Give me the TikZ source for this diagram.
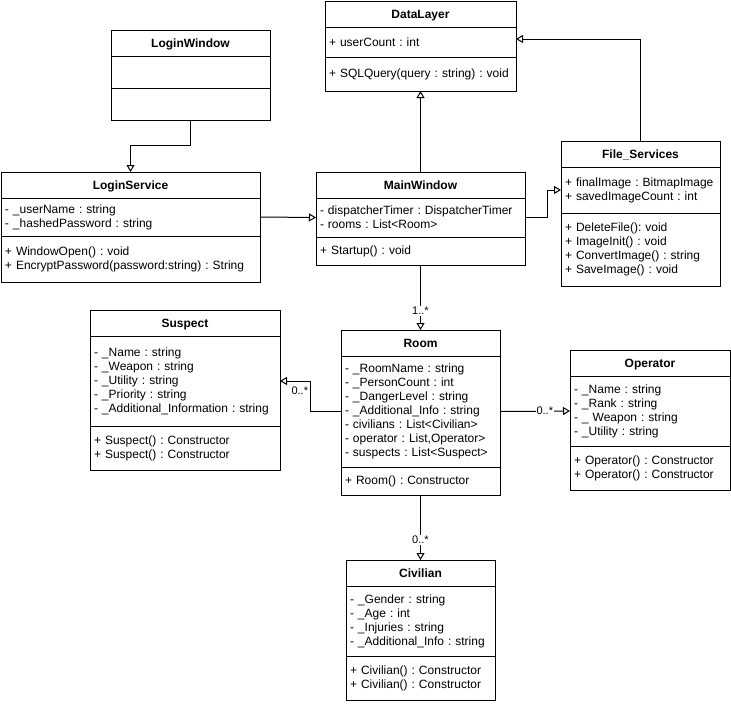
\documentclass[tikz,border=0pt]{standalone}
\usepackage{fontspec}
\setmainfont{Liberation Sans}
\usetikzlibrary{arrows.meta, positioning}
\frenchspacing

\begin{document}
\begin{tikzpicture}[
    x=1pt, y=-1pt,
    node distance=0pt,
    line width=1pt,
    classname/.style={rectangle, draw, outer sep=0pt, inner xsep=4pt, inner ysep=2pt, text width=#1, text height=9pt, text depth=0pt, align=center, minimum height=26pt, anchor=north west, font=\fontsize{12}{14}\selectfont\bfseries},
    compart/.style={rectangle, draw, outer sep=0pt, inner xsep=4pt, inner ysep=2pt, text width=#1, align=left, font=\fontsize{12}{14}\selectfont},
    inherit/.style={-{Triangle[open, length=7pt, width=8pt]}},
    mult/.style={fill=white, inner sep=1pt, font=\fontsize{11}{13}\selectfont}
]

\fill[white] (0,0) rectangle (731,704);
\useasboundingbox (0,0) rectangle (731,704);

\node[classname=183pt] (datalayer) at (325,1) {DataLayer};
\node[compart=183pt, minimum height=30pt, below=of datalayer] (datalayer-a) {+ userCount : int};
\node[compart=183pt, minimum height=34pt, below=of datalayer-a] (datalayer-m) {+ SQLQuery(query : string) : void};

\node[classname=151pt] (loginwindow) at (111,30) {LoginWindow};
\node[compart=151pt, minimum height=32pt, below=of loginwindow] (loginwindow-a) {};
\node[compart=151pt, minimum height=32pt, below=of loginwindow-a] (loginwindow-m) {};

\node[classname=251pt] (loginservice) at (1,172) {LoginService};
\node[compart=251pt, minimum height=38pt, below=of loginservice] (loginservice-a) {- \_userName : string\\- \_hashedPassword : string};
\node[compart=251pt, minimum height=46pt, below=of loginservice-a] (loginservice-m) {+ WindowOpen() : void\\+ EncryptPassword(password:string) : String};

\node[classname=201pt] (mainwindow) at (316,172) {MainWindow};
\node[compart=201pt, minimum height=39pt, below=of mainwindow] (mainwindow-a) {- dispatcherTimer : DispatcherTimer\\- rooms : List<Room>};
\node[compart=201pt, minimum height=28pt, below=of mainwindow-a] (mainwindow-m) {+ Startup() : void};

\node[classname=151pt] (fileservices) at (561,141) {File\_Services};
\node[compart=151pt, minimum height=46pt, below=of fileservices] (fileservices-a) {+ finalImage : BitmapImage\\+ savedImageCount : int};
\node[compart=151pt, minimum height=73pt, below=of fileservices-a] (fileservices-m) {+ DeleteFile(): void\\+ ImageInit() : void\\+ ConvertImage() : string\\+ SaveImage() : void};

\node[classname=182pt] (suspect) at (90,310) {Suspect};
\node[compart=182pt, minimum height=90pt, below=of suspect] (suspect-a) {- \_Name : string\\- \_Weapon : string\\- \_Utility : string\\- \_Priority : string\\- \_Additional\_Information : string};
\node[compart=182pt, minimum height=44pt, below=of suspect-a] (suspect-m) {+ Suspect() : Constructor\\+ Suspect() : Constructor};

\node[classname=151pt] (room) at (341,330) {Room};
\node[compart=151pt, minimum height=111pt, below=of room] (room-a) {- \_RoomName : string\\- \_PersonCount : int\\- \_DangerLevel : string\\- \_Additional\_Info : string\\- civilians : List<Civilian>\\- operator : List,Operator>\\- suspects : List<Suspect>};
\node[compart=151pt, minimum height=28pt, below=of room-a] (room-m) {+ Room() : Constructor};

\node[classname=152pt] (operator) at (570,350) {Operator};
\node[compart=152pt, minimum height=70pt, below=of operator] (operator-a) {- \_Name : string\\- \_Rank : string\\- \_ Weapon : string\\- \_Utility : string};
\node[compart=152pt, minimum height=44pt, below=of operator-a] (operator-m) {+ Operator() : Constructor\\+ Operator() : Constructor};

\node[classname=141pt] (civilian) at (346,560) {Civilian};
\node[compart=141pt, minimum height=70pt, below=of civilian] (civilian-a) {- \_Gender : string\\- \_Age : int\\- \_Injuries : string\\- \_Additional\_Info : string};
\node[compart=141pt, minimum height=44pt, below=of civilian-a] (civilian-m) {+ Civilian() : Constructor\\+ Civilian() : Constructor};

\draw[inherit] (loginwindow-m.south) -- ++(0,25) -| (loginservice.north);
\draw[inherit] (loginservice-a.east) -- (mainwindow-a.west);
\draw[inherit] (mainwindow.north) -- (datalayer-m.south);
\draw[inherit] (mainwindow-a.east) -- ++(22,0) |- (fileservices-a.west);
\draw[inherit] (fileservices.north) |- ([yshift=3pt]datalayer-a.east);
\draw[inherit] (mainwindow-m.south) -- node[mult, pos=0.71] {1..*} (room.north);
\draw[inherit] (room-a.west) -- ++(-31,0) |- node[mult, pos=0.67, below=4pt, fill=none] {0..*} (suspect-a.east);
\draw[inherit] (room-a.east) -- node[mult, pos=0.64] {0..*} (operator-a.west);
\draw[inherit] (room-m.south) -- node[mult, pos=0.69] {0..*} (civilian.north);

\end{tikzpicture}
\end{document}
